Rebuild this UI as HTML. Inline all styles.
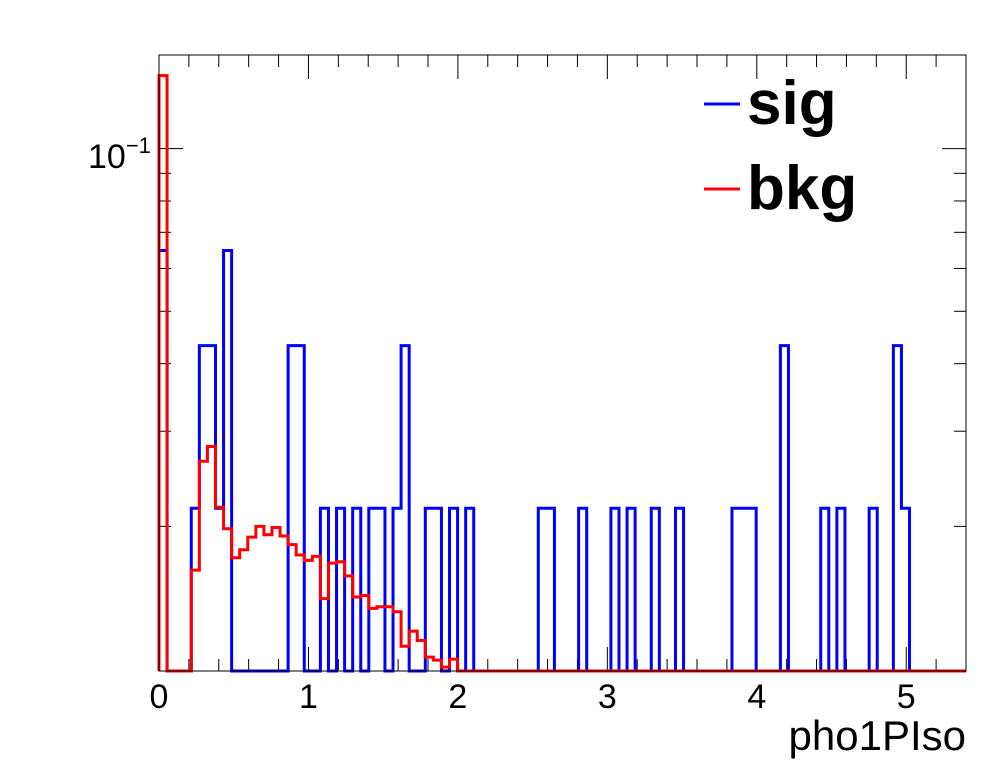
<!DOCTYPE html>
<html><head><meta charset="utf-8"><style>
html,body{margin:0;padding:0;background:#fff;}
svg{display:block;font-family:"Liberation Sans",Arial,sans-serif;}
</style></head><body>
<svg id="chart" width="996" height="772" viewBox="0 0 996 772">
<rect x="0" y="0" width="996" height="772" fill="#fff"/>
<g id="ticks"></g>
<g id="series"></g>
<rect x="159" y="55" width="807" height="616" fill="none" stroke="#000" stroke-width="1"/>
<g id="labels"></g>
<text x="966" y="750" text-anchor="end" font-size="42">pho1PIso</text>
<text x="88" y="168" font-size="34">10<tspan dy="-15" font-size="22">−1</tspan></text>
<g>
<line x1="704" y1="104" x2="740" y2="104" stroke="#0000ff" stroke-width="3"/>
<text x="747" y="124" font-size="62" font-weight="bold">sig</text>
<line x1="704" y1="189" x2="740" y2="189" stroke="#ff0000" stroke-width="3"/>
<text x="747" y="209" font-size="62" font-weight="bold">bkg</text>
</g>
</svg>
<script>
const xTicks = [0,1,2,3,4,5];
const xMin = 0, xMax = 5.4, nBins = 100;
const yMin = 0.0108, yMax = 0.149;
const sigUnit = 0.0216;
// signal: [bin index, count in units]
const sigBins = [0,4,5,6,7,8,16,17,20,22,24,26,27,29,30,33,34,36,38,47,48,52,56,58,61,64,71,72,73,77,82,84,88,91,92];
const sigCounts = [3,1,2,2,1,3,2,2,1,1,1,1,1,1,2,1,1,1,1,1,1,1,1,1,1,1,1,1,1,2,1,1,1,2,1];
// background values per bin (bins 0..36), rest zero
const bkgValues = [0.1365,0,0,0,0.0166,0.0264,0.0281,0.0217,0.0198,0.0175,0.0181,0.0191,0.0200,0.0193,0.0199,0.0192,0.0185,0.0177,0.0173,0.0176,0.0147,0.0171,0.0172,0.0162,0.0148,0.0149,0.0141,0.0142,0.0142,0.0139,0.0120,0.0128,0.0123,0.01146,0.01131,0.01098,0.01136];

const L=159,R=966,T=55,B=671;
const NS="http://www.w3.org/2000/svg";
function xs(v){return L+(v-xMin)/(xMax-xMin)*(R-L);}
function ys(v){ if(v<=yMin) return B; return B-(Math.log10(v)-Math.log10(yMin))/(Math.log10(yMax)-Math.log10(yMin))*(B-T);}
function mk(tag,attrs,parent){const e=document.createElementNS(NS,tag);for(const k in attrs)e.setAttribute(k,attrs[k]);parent.appendChild(e);return e;}
const bw=(xMax-xMin)/nBins;
function stepPath(vals){
  let d="M"+xs(xMin)+","+B;
  for(let i=0;i<nBins;i++){
    const y=ys(vals[i]);
    d+=" L"+xs(xMin+i*bw)+","+y+" L"+xs(xMin+(i+1)*bw)+","+y;
  }
  return d;
}
const sigArr=new Array(nBins).fill(0);
sigBins.forEach((b,i)=>{sigArr[b]=sigCounts[i]*sigUnit;});
const bkgArr=new Array(nBins).fill(0);
bkgValues.forEach((v,i)=>{bkgArr[i]=v;});
const series=document.getElementById('series');
const ps=mk('path',{d:stepPath(sigArr),fill:'none',stroke:'#0000ff','stroke-width':3},series);


const pb=mk('path',{d:stepPath(bkgArr),fill:'none',stroke:'#ff0000','stroke-width':3},series);



const tk=document.getElementById('ticks');
const lb=document.getElementById('labels');
for(let v=0;v<=xMax+1e-9;v+=0.2){
  const x=xs(v);const major=Math.abs(v-Math.round(v))<1e-6;const len=major?24:12;
  const t1=mk('line',{x1:x,y1:B,x2:x,y2:B-len,stroke:'#000','stroke-width':1},tk);
  
  
  const t2=mk('line',{x1:x,y1:T,x2:x,y2:T+len,stroke:'#000','stroke-width':1},tk);
  
  
}
xTicks.forEach(v=>{
  const t=mk('text',{x:xs(v),y:708,'text-anchor':'middle','font-size':34},lb);
  t.textContent=String(v);
  
  
});
[0.02,0.03,0.04,0.05,0.06,0.07,0.08,0.09,0.1].forEach(v=>{
  const y=ys(v);const len=(v===0.1)?24:12;
  const a=mk('line',{x1:L,y1:y,x2:L+len,y2:y,stroke:'#000','stroke-width':1},tk);
  
  
  const b=mk('line',{x1:R,y1:y,x2:R-len,y2:y,stroke:'#000','stroke-width':1},tk);
  
  
});
</script>
</body></html>
